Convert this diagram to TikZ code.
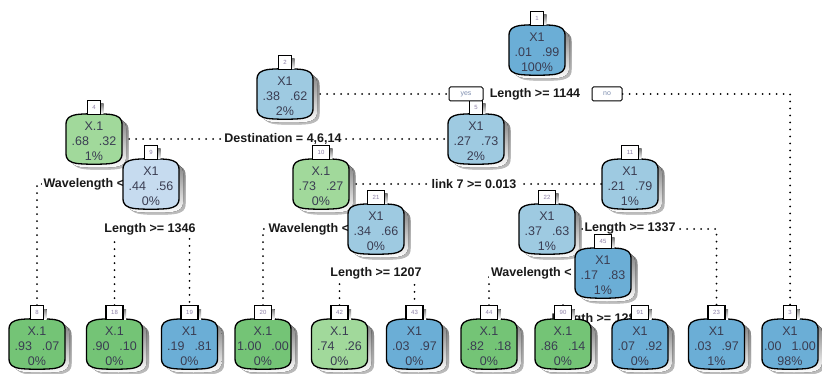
\documentclass[tikz,border=0pt]{standalone}
\usepackage{fontspec}
\setmainfont{Liberation Sans}
\pgfdeclarelayer{paper}
\pgfdeclarelayer{links}
\pgfdeclarelayer{labels}
\pgfsetlayers{paper,links,labels,main}

\definecolor{bstrong}{HTML}{6BAED6}
\definecolor{blight}{HTML}{9ECAE1}
\definecolor{bpale}{HTML}{C6DBEF}
\definecolor{gstrong}{HTML}{74C476}
\definecolor{glight}{HTML}{A1D99B}
\definecolor{shade}{HTML}{B4B4B4}
\definecolor{numcol}{HTML}{8C7FA6}
\definecolor{txt}{HTML}{3A3D52}
\definecolor{yncol}{HTML}{7F8FB0}

% outline of a tree box centred at (#1,#2): straight sides, rounded shoulders
\newcommand{\barrelpath}[2]{(#1-28,#2-14) .. controls (#1-28,#2-21) and (#1-25,#2-23) .. (#1-17,#2-24.5) .. controls (#1-8,#2-25.5) and (#1+8,#2-25.5) .. (#1+17,#2-24.5) .. controls (#1+25,#2-23) and (#1+28,#2-21) .. (#1+28,#2-14) -- (#1+28,#2+14) .. controls (#1+28,#2+21) and (#1+25,#2+23) .. (#1+17,#2+24.5) .. controls (#1+8,#2+25.5) and (#1-8,#2+25.5) .. (#1-17,#2+24.5) .. controls (#1-25,#2+23) and (#1-28,#2+21) .. (#1-28,#2+14) -- cycle}

\tikzset{
  frame/.style={minimum width=56pt,minimum height=50pt,inner sep=0pt,draw=none},
  ntext/.style={anchor=base,inner sep=0pt,text=txt,font=\fontsize{12.5}{14}\selectfont},
  tabbox/.style={draw=black,fill=white,line width=1.2pt,minimum height=13.5pt,inner sep=0pt,
                 text=numcol,font=\fontsize{6}{6}\selectfont},
  split/.style={fill=white,inner xsep=2pt,inner ysep=0pt,minimum height=17pt,
                text=black!90,font=\fontsize{12.5}{14}\selectfont\bfseries},
  yn/.style={draw=black,fill=white,line width=1pt,rounded corners=1.5pt,minimum height=14pt,
             inner sep=0pt,text=yncol,font=\fontsize{7}{7}\selectfont},
  dots/.style={line width=2pt,line cap=round,dash pattern=on 0pt off 7pt,black}
}

% \tnode{name}{x}{y}{fill}{number}{tab width}{line 1}{line 2}{line 3}
\newcommand{\tnode}[9]{%
  \fill[shade,opacity=0.5,shift={(6.5,5.5)}] \barrelpath{#2}{#3};
  \fill[shade,shift={(4,3.5)}] \barrelpath{#2}{#3};
  \filldraw[fill=#4,draw=black,line width=1.3pt] \barrelpath{#2}{#3};
  \node[frame] (#1) at (#2,#3) {};
  \node[ntext] (#1-a) at (#2,#3-8.2) {#7};
  \node[ntext] (#1-b) at (#2,#3+6.8) {#8};
  \node[ntext] (#1-c) at (#2,#3+21.8) {#9};
  \fill[shade] (#2-#6/2+3,#3-35) rectangle (#2+#6/2+3,#3-25);
  \node[tabbox,minimum width=#6] (#1-t) at (#2,#3-31.5) {#5};
}
\newcommand{\pp}[2]{#1\hspace{10pt}#2}

\begin{document}
\begin{tikzpicture}[x=1pt,y=-1pt]
\begin{pgfonlayer}{paper}
\fill[white] (0,0) rectangle (822,374);
\end{pgfonlayer}
\useasboundingbox (0,0) rectangle (822,374);

% internal nodes
\tnode{n1}{537}{50}{bstrong}{1}{13}{X1}{\pp{.01}{.99}}{100\%}
\tnode{n2}{285}{94}{blight}{2}{13}{X1}{\pp{.38}{.62}}{2\%}
\tnode{n4}{94}{139}{glight}{4}{13}{X.1}{\pp{.68}{.32}}{1\%}
\tnode{n5}{476}{139}{blight}{5}{13}{X1}{\pp{.27}{.73}}{2\%}
\tnode{n9}{151}{184}{bpale}{9}{13}{X1}{\pp{.44}{.56}}{0\%}
\tnode{n10}{321}{184}{glight}{10}{17}{X.1}{\pp{.73}{.27}}{0\%}
\tnode{n11}{630}{184}{blight}{11}{17}{X1}{\pp{.21}{.79}}{1\%}
\tnode{n21}{376}{229}{blight}{21}{17}{X1}{\pp{.34}{.66}}{0\%}
\tnode{n22}{547}{229}{blight}{22}{17}{X1}{\pp{.37}{.63}}{1\%}
\tnode{n45}{603}{273}{bstrong}{45}{17}{X1}{\pp{.17}{.83}}{1\%}

% leaves
\tnode{l8}{37}{344}{gstrong}{8}{13}{X.1}{\pp{.93}{.07}}{0\%}
\tnode{l18}{114.5}{344}{gstrong}{18}{17}{X.1}{\pp{.90}{.10}}{0\%}
\tnode{l19}{189.5}{344}{bstrong}{19}{17}{X1}{\pp{.19}{.81}}{0\%}
\tnode{l20}{263}{344}{gstrong}{20}{17}{X.1}{\pp{1.00}{.00}}{0\%}
\tnode{l42}{339.5}{344}{glight}{42}{17}{X.1}{\pp{.74}{.26}}{0\%}
\tnode{l43}{414.5}{344}{bstrong}{43}{17}{X1}{\pp{.03}{.97}}{0\%}
\tnode{l44}{489}{344}{gstrong}{44}{17}{X.1}{\pp{.82}{.18}}{0\%}
\tnode{l90}{563}{344}{gstrong}{90}{17}{X.1}{\pp{.86}{.14}}{0\%}
\tnode{l91}{640}{344}{bstrong}{91}{17}{X1}{\pp{.07}{.92}}{0\%}
\tnode{l23}{716.5}{344}{bstrong}{23}{17}{X1}{\pp{.03}{.97}}{1\%}
\tnode{l3}{790}{344}{bstrong}{3}{13}{X1}{\pp{.00}{1.00}}{98\%}

% yes / no tags of the first split
\node[yn,minimum width=34pt] (yes) at (466,94) {yes};
\node[yn,minimum width=30pt] (no) at (607,94) {no};

% split labels
\begin{pgfonlayer}{labels}
\node[split] (q1) at (535,94) {Length >= 1144};
\node[split] (q2) at (283,139) {Destination = 4,6,14};
\node[split] (q4) at (96,184) {Wavelength < 850};
\node[split] (q5) at (474,184) {link 7 >= 0.013};
\node[split] (q9) at (150,229) {Length >= 1346};
\node[split] (q10) at (321,229) {Wavelength < 850};
\node[split] (q11) at (630,228) {Length >= 1337};
\node[split] (q21) at (376,273) {Length >= 1207};
\node[split] (q22) at (547,273) {Wavelength < 1310};
\node[split] (q45) at (597,319) {Length >= 1280};
\end{pgfonlayer}

% dotted branches
\begin{pgfonlayer}{links}
\draw[dots] (n2.east) -- (yes.west);
\draw[dots] (no.east) -| (l3-t.north);
\draw[dots] (n4.east) -- (n5.west);
\draw[dots] (l8-t.north) |- (n9.west);
\draw[dots] (l18-t.north) |- (q9.center) -| (l19-t.north);
\draw[dots] (n10.east) -- (n11.west);
\draw[dots] (l20-t.north) |- (n21.west);
\draw[dots] (l42-t.north) |- (q21.center) -| (l43-t.north);
\draw[dots] (n22.east) -| (l23-t.north);
\draw[dots] (l44-t.north) |- (n45.west);
\draw[dots] (l90-t.north) |- (q45.center) -| (l91-t.north);
\end{pgfonlayer}
\end{tikzpicture}
\end{document}
